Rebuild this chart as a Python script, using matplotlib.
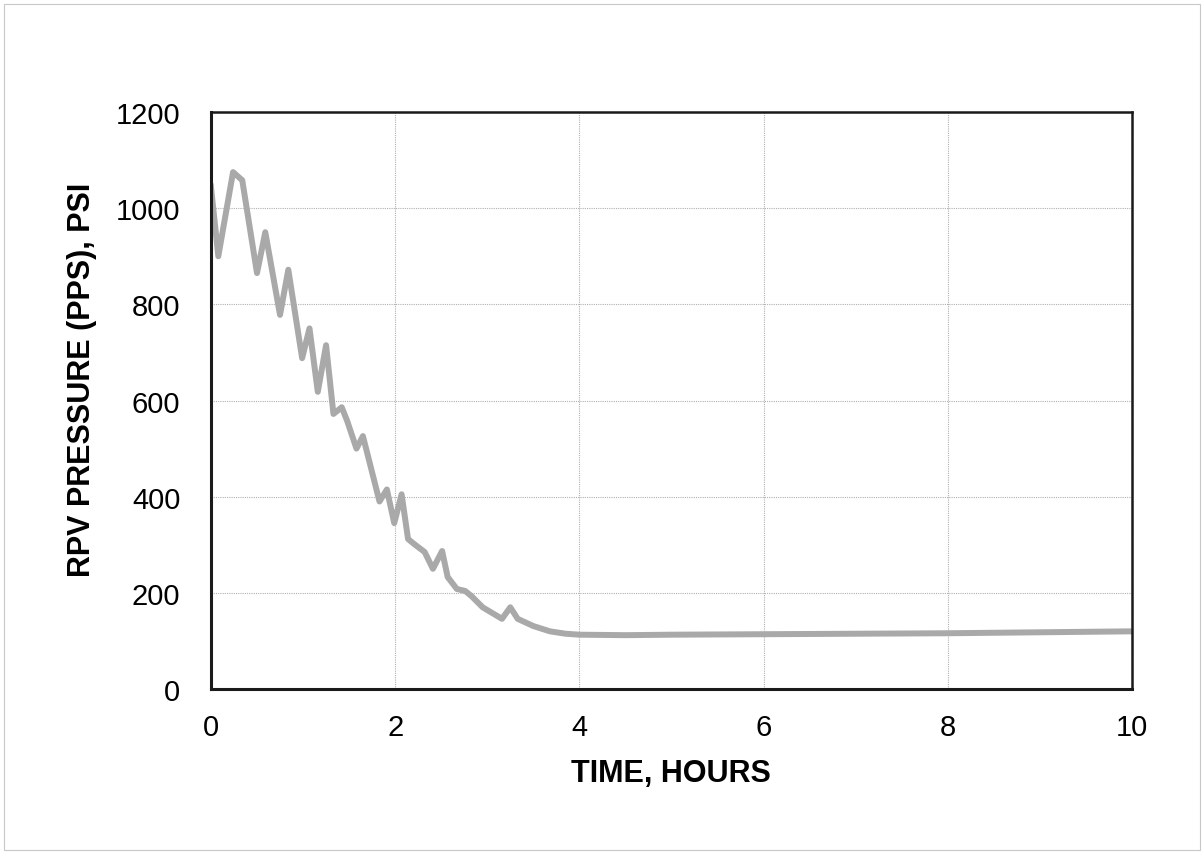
import numpy as np
import matplotlib.pyplot as plt
from matplotlib.patches import Rectangle

# values
hours = [0.0, 0.08, 0.24, 0.34, 0.50, 0.59, 0.75, 0.84, 0.99, 1.07, 1.16, 1.25,
         1.33, 1.42, 1.48, 1.58, 1.65, 1.83, 1.91, 1.99, 2.07, 2.14, 2.21, 2.32,
         2.41, 2.51, 2.57, 2.67, 2.76, 2.83, 2.95, 3.16, 3.25, 3.33, 3.50, 3.68,
         3.85, 4.0, 4.5, 5.0, 6.0, 7.0, 8.0, 9.0, 10.0]
psi = [1045, 900, 1075, 1058, 865, 950, 778, 872, 688, 750, 618, 715,
       572, 586, 557, 500, 526, 390, 415, 345, 405, 312, 301, 285,
       250, 287, 233, 208, 204, 193, 170, 146, 170, 146, 131, 120,
       115, 113, 112, 113, 114, 115, 116, 118, 120]

xticks = [0, 2, 4, 6, 8, 10]
yticks = [0, 200, 400, 600, 800, 1000, 1200]

plt.rcParams['font.family'] = ['Liberation Sans', 'DejaVu Sans']

fig = plt.figure(figsize=(12.04, 8.54), dpi=100)
ax = fig.add_axes([0.1752, 0.192, 0.765, 0.6757])

ax.plot(hours, psi, color='#a9a9a9', lw=4.3, solid_joinstyle='round')

ax.set_xlim(0, 10)
ax.set_ylim(0, 1200)
ax.set_xticks(xticks)
ax.set_yticks(yticks)
ax.grid(True, color='#b0b0b0', lw=0.8, ls=(0, (1, 1)))
ax.tick_params(length=0, labelsize=21)
ax.tick_params(axis='y', pad=22)
ax.tick_params(axis='x', pad=17)

for s in ax.spines.values():
    s.set_color('#1a1a1a')
    s.set_linewidth(1.8)
ax.spines['left'].set_linewidth(2.2)
ax.spines['bottom'].set_linewidth(2.2)

ax.set_ylabel('RPV PRESSURE (PPS), PSI', fontsize=22, fontweight='bold')
ax.yaxis.set_label_coords(-0.124, 0.537)
fig.text(0.5574, 0.0843, 'TIME, HOURS', fontsize=22, fontweight='bold',
         ha='center', va='baseline')

# thin outer frame round the whole figure
fig.patches.append(Rectangle((0.003, 0.004), 0.994, 0.99, transform=fig.transFigure,
                             fill=False, ec='#c8c8c8', lw=0.8))

plt.savefig('out.png', dpi=100)
